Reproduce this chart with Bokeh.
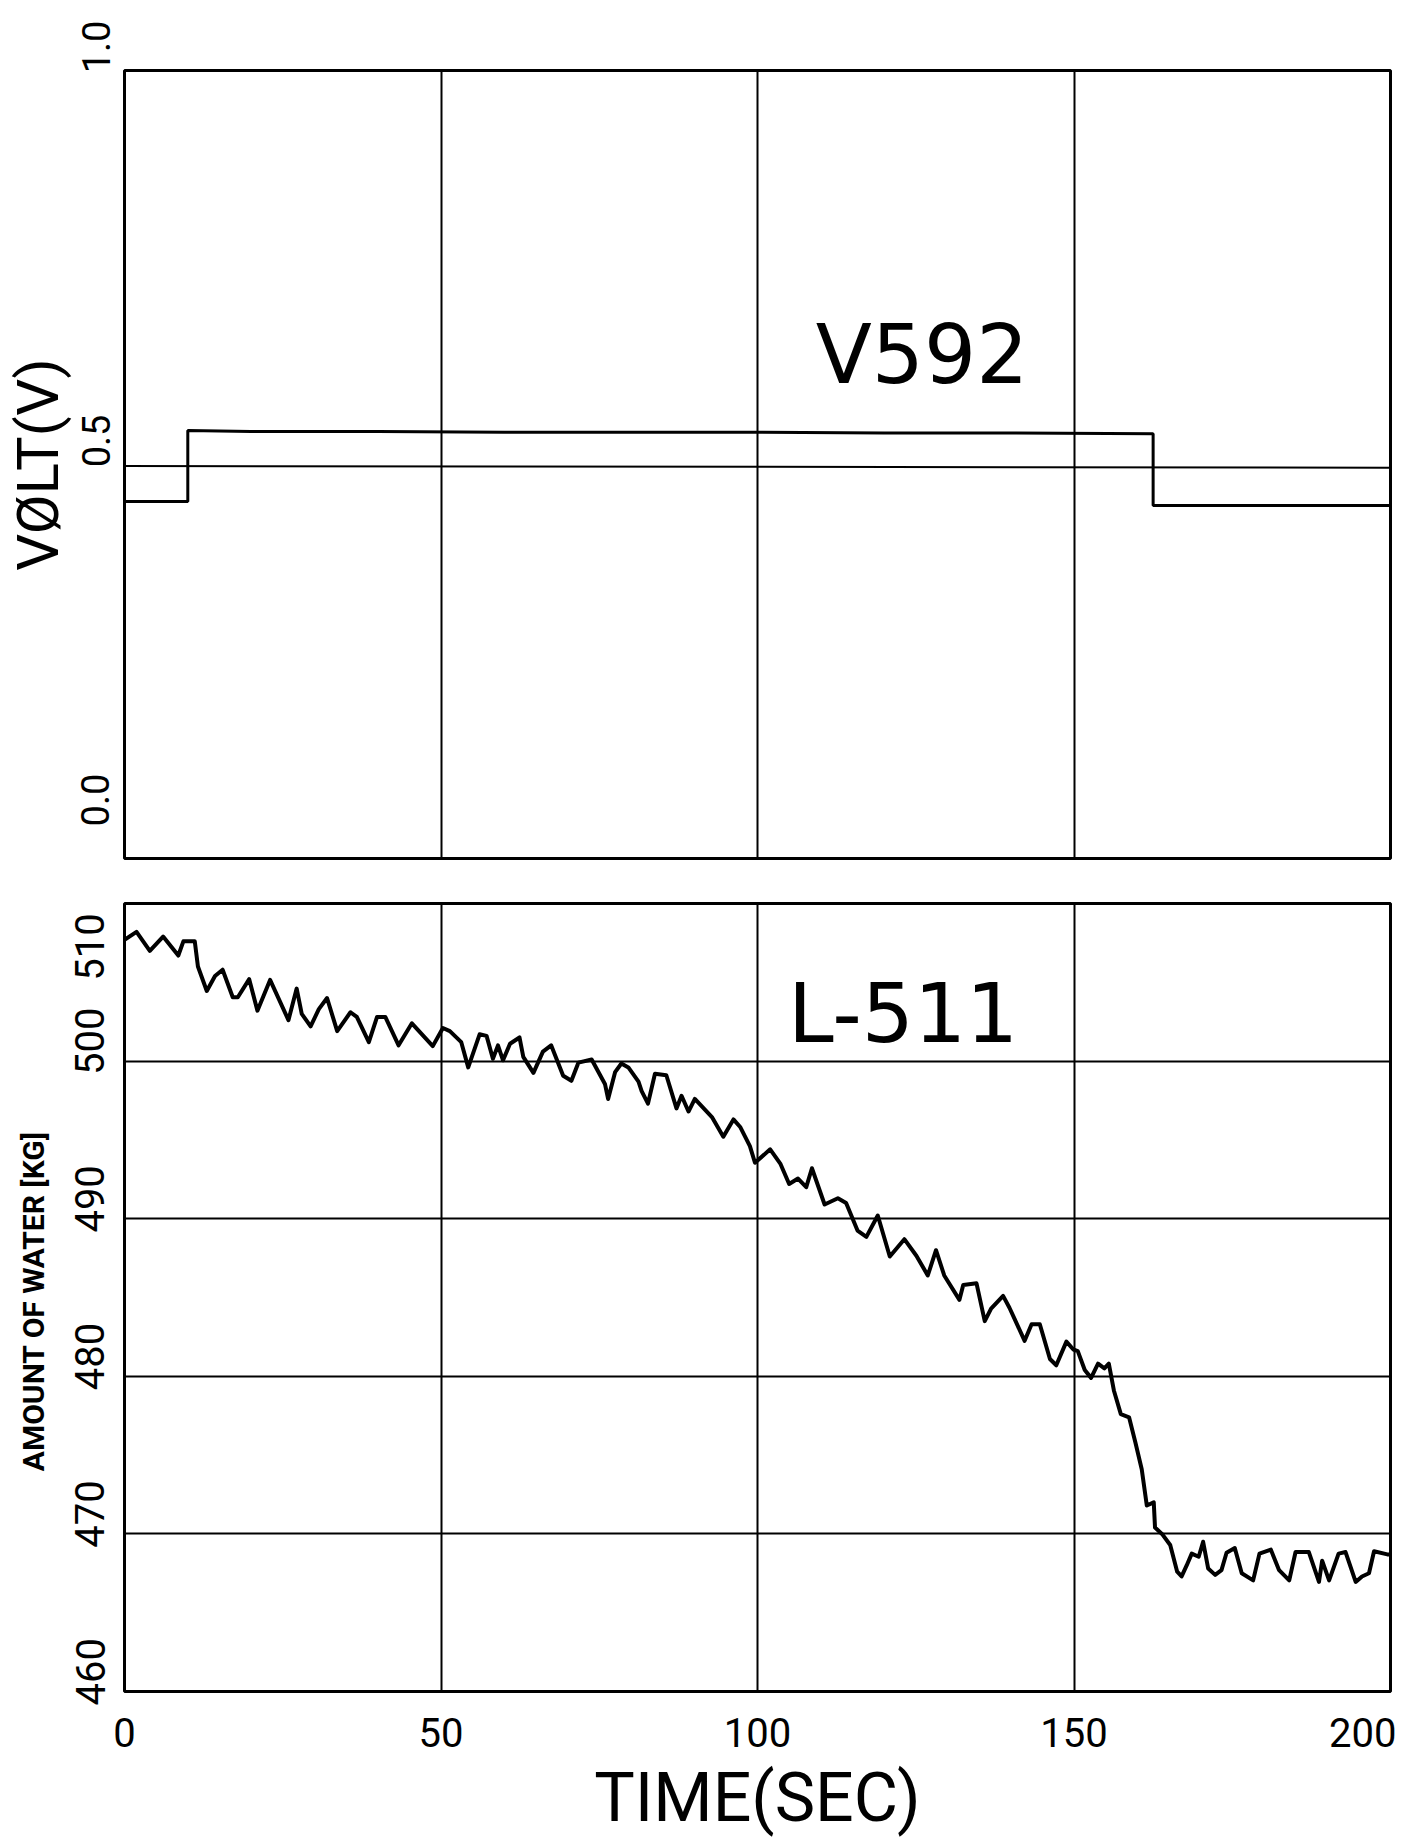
from bokeh.plotting import figure
from bokeh.layouts import column
from bokeh.models import Range1d, FixedTicker, Label, Grid
from bokeh.embed import file_html
from bokeh.resources import INLINE

# ---------------- data ----------------
time_ticks = [0, 50, 100, 150, 200]
volt_ticks = [0.0, 0.5, 1.0]
volt_tick_labels = ["0.0", "0.5", "1.0"]
kg_ticks = [460, 470, 480, 490, 500, 510]
kg_tick_labels = ["460", "470", "480", "490", "500", "510"]

# thin reference line in the upper panel
ref_time = [0, 200]
ref_volt = [0.498, 0.496]

# V592 valve signal
v592_time = [0, 10, 10, 20, 40, 60, 80, 100, 120, 140, 162.5, 162.5, 180, 200]
v592_volt = [0.453, 0.453, 0.543, 0.542, 0.542, 0.541, 0.541, 0.541, 0.540, 0.540, 0.539, 0.448, 0.448, 0.448]

# L-511 amount of water
l511_time = [0.0, 1.9, 4.0, 6.1, 8.5, 9.3, 11.1, 11.6, 13.0, 14.3, 15.5, 17.1, 17.9, 19.7, 21.0,
             23.0, 25.9, 27.2, 28.0, 29.4, 30.7, 32.0, 33.6, 35.7, 36.7, 38.6, 39.9, 41.2, 43.3,
             45.4, 48.7, 50.3, 51.4, 53.2, 54.3, 56.1, 57.2, 58.2, 59.0, 59.8, 60.9, 62.4, 63.0,
             64.6, 66.1, 67.4, 69.3, 70.6, 71.7, 73.8, 75.9, 76.4, 77.5, 78.5, 79.6, 81.2, 81.7,
             82.7, 83.8, 85.6, 87.2, 88.0, 89.1, 90.1, 92.8, 94.6, 96.2, 97.3, 98.8, 99.6, 102.0,
             103.6, 105.0, 106.4, 107.7, 108.6, 110.6, 112.7, 114.0, 115.8, 117.2, 119.0, 120.9,
             123.2, 125.1, 126.9, 128.2, 129.5, 131.9, 132.5, 134.6, 135.9, 136.9, 138.8, 139.8,
             142.2, 143.3, 144.6, 146.2, 147.2, 148.8, 149.9, 150.6, 151.7, 152.7, 153.8, 154.8,
             155.5, 156.3, 157.4, 158.7, 159.7, 160.7, 161.5, 162.6, 162.8, 163.9, 165.2, 166.3,
             167.0, 167.8, 168.6, 169.7, 170.4, 171.2, 172.3, 173.3, 174.1, 175.4, 176.5, 178.3,
             179.3, 181.1, 182.4, 184.0, 185.0, 187.1, 188.7, 189.2, 190.3, 191.8, 192.9, 194.5,
             195.5, 196.6, 197.4, 199.5, 200.0]
l511_kg = [507.7, 508.2, 507.0, 507.9, 506.7, 507.6, 507.6, 506.0, 504.45, 505.4, 505.8, 504.05,
           504.05, 505.2, 503.2, 505.15, 502.6, 504.6, 503.0, 502.2, 503.3, 504.0, 501.9, 503.1,
           502.8, 501.2, 502.8, 502.8, 501.0, 502.4, 500.95, 502.1, 501.9, 501.2, 499.6, 501.7,
           501.6, 500.15, 501.0, 500.05, 501.1, 501.5, 500.27, 499.25, 500.6, 501.0, 499.07,
           498.75, 499.9, 500.1, 498.55, 497.6, 499.3, 499.85, 499.6, 498.7, 498.1, 497.3, 499.2,
           499.1, 497.0, 497.8, 496.8, 497.6, 496.45, 495.2, 496.3, 495.8, 494.6, 493.55, 494.4,
           493.5, 492.2, 492.55, 492.0, 493.2, 490.9, 491.3, 491.0, 489.25, 488.85, 490.2, 487.6,
           488.7, 487.65, 486.4, 488.0, 486.4, 484.85, 485.8, 485.9, 483.5, 484.3, 485.1, 484.35,
           482.25, 483.3, 483.3, 481.1, 480.7, 482.2, 481.7, 481.6, 480.4, 479.9, 480.8, 480.5,
           480.8, 479.1, 477.6, 477.4, 475.8, 474.1, 471.8, 472.0, 470.4, 470.0, 469.3, 467.6,
           467.3, 468.0, 468.75, 468.55, 469.5, 467.8, 467.4, 467.7, 468.8, 469.1, 467.5, 467.05,
           468.75, 469.0, 467.7, 467.05, 468.85, 468.85, 466.95, 468.3, 467.05, 468.75, 468.85,
           466.95, 467.3, 467.5, 468.9, 468.7, 468.7]

FONT = "Roboto"
NB = "\u00a0"


def style(p):
    p.background_fill_color = "white"
    p.border_fill_color = "white"
    p.outline_line_color = "black"
    p.outline_line_width = 3
    p.outline_line_alpha = 1.0
    for ax in p.axis:
        ax.major_tick_line_color = None
        ax.minor_tick_line_color = None
        ax.axis_line_color = None
        ax.major_label_text_color = "black"
        ax.major_label_text_font = FONT
        ax.axis_label_text_color = "black"
        ax.axis_label_text_font = FONT
        ax.axis_label_text_font_style = "normal"


# ---------------- upper panel ----------------
p1 = figure(frame_width=1266, frame_height=788,
            x_range=Range1d(0, 200), y_range=Range1d(0, 1),
            x_axis_location=None,
            output_backend="svg", toolbar_location=None,
            min_border_left=113, min_border_top=70, min_border_bottom=15, min_border_right=17)
p1.grid.visible = False
style(p1)
p1.add_layout(Grid(dimension=0, ticker=FixedTicker(ticks=time_ticks),
                   grid_line_color="black", grid_line_width=2, grid_line_alpha=1.0))
p1.yaxis.ticker = FixedTicker(ticks=volt_ticks)
# labels start at their tick and run upwards, as on the plotter sheet
p1.yaxis.major_label_overrides = {t: NB * 5 + s for t, s in zip(volt_ticks, volt_tick_labels)}
p1.yaxis.major_label_orientation = "vertical"
p1.yaxis.major_label_text_font_size = "38px"
p1.yaxis.major_label_standoff = 0
p1.yaxis.axis_label = "VØLT(V)"
p1.yaxis.axis_label_text_font_size = "58px"
p1.yaxis.axis_label_standoff = 0

p1.line(ref_time, ref_volt, line_color="black", line_width=2)
p1.line(v592_time, v592_volt, line_color="black", line_width=3)
p1.add_layout(Label(x=126, y=0.64, text="V592", text_font="DejaVu Sans",
                    text_font_size="82px", text_align="center", text_baseline="middle",
                    text_color="black"))

# ---------------- lower panel ----------------
p2 = figure(frame_width=1266, frame_height=788,
            x_range=Range1d(0, 200), y_range=Range1d(460, 510),
            output_backend="svg", toolbar_location=None,
            min_border_left=113, min_border_top=30, min_border_bottom=100, min_border_right=17)
p2.grid.visible = False
style(p2)
p2.add_layout(Grid(dimension=0, ticker=FixedTicker(ticks=time_ticks),
                   grid_line_color="black", grid_line_width=2, grid_line_alpha=1.0))
p2.add_layout(Grid(dimension=1, ticker=FixedTicker(ticks=kg_ticks),
                   grid_line_color="black", grid_line_width=2, grid_line_alpha=1.0))
p2.xaxis.ticker = FixedTicker(ticks=time_ticks)
p2.xaxis.major_label_text_font_size = "40px"
p2.xaxis.major_label_standoff = 20
p2.xaxis.axis_label = "TIME(SEC)"
p2.xaxis.axis_label_text_font_size = "68px"
p2.xaxis.axis_label_standoff = 8
p2.yaxis.ticker = FixedTicker(ticks=kg_ticks)
kg_over = {t: NB * 4 + s for t, s in zip(kg_ticks, kg_tick_labels)}
kg_over[kg_ticks[-1]] = kg_tick_labels[-1] + NB * 4  # top label sits below its tick
p2.yaxis.major_label_overrides = kg_over
p2.yaxis.major_label_orientation = "vertical"
p2.yaxis.major_label_text_font_size = "40px"
p2.yaxis.major_label_standoff = 4
p2.yaxis.axis_label = "AMOUNT OF WATER  [KG]"
p2.yaxis.axis_label_text_font_size = "30px"
p2.yaxis.axis_label_text_font_style = "bold"
p2.yaxis.axis_label_standoff = 14

p2.line(l511_time, l511_kg, line_color="black", line_width=4, line_join="round")
p2.add_layout(Label(x=123, y=503.0, text="L-511", text_font="DejaVu Sans",
                    text_font_size="82px", text_align="center", text_baseline="middle",
                    text_color="black"))

layout = column(p1, p2, spacing=0)
open("out.html", "w").write(file_html(layout, INLINE))
